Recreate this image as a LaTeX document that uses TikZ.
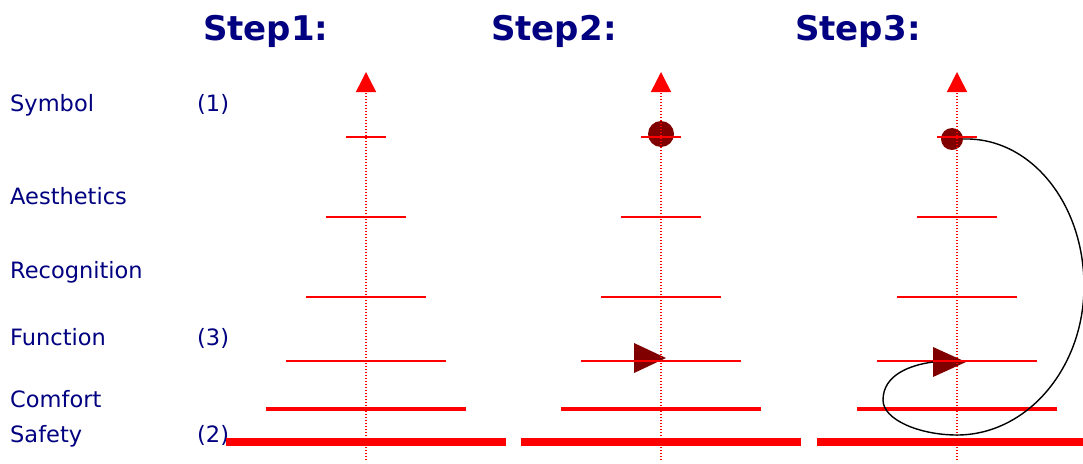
\documentclass[tikz,border=0pt]{standalone}
\usepackage{fontspec}
\setmainfont{DejaVu Sans}
\usetikzlibrary{arrows.meta,positioning,calc}
\definecolor{labelnavy}{RGB}{0, 0, 128}
\definecolor{rungred}{RGB}{255, 0, 0}
\definecolor{markred}{RGB}{128, 0, 0}

\begin{document}
\begin{tikzpicture}[x=1pt, y=-1pt,
  steptitle/.style={anchor=base west, inner sep=0pt, text=labelnavy, font=\fontsize{34}{40}\selectfont\bfseries},
  level/.style={anchor=base west, inner sep=0pt, text=labelnavy, font=\fontsize{22.5}{26}\selectfont},
  axis/.style={draw=rungred, line width=1.5pt, dash pattern=on 1.5pt off 1.5pt, -{Triangle[length=20pt, width=20pt]}},
  rung/.style={draw=rungred},
  symbolmark/.style={circle, fill=markred, inner sep=0pt},
  loop/.style={draw=black, line width=1.4pt}
]
\useasboundingbox (0,0) rectangle (1083,463);
\clip (0,0) rectangle (1083,463);

% titles
\node[steptitle] (title1) at (203,40) {Step1:};
\node[steptitle] (title2) at (491,40) {Step2:};
\node[steptitle] (title3) at (795,40) {Step3:};

% levels
\node[level] (symbol) at (10,111) {Symbol};
\node[level] (aesthetics) at (10,204) {Aesthetics};
\node[level] (recognition) at (10,278) {Recognition};
\node[level] (function) at (10,345) {Function};
\node[level] (comfort) at (10,407) {Comfort};
\node[level] (safety) at (10,442) {Safety};
\node[level] (rank1) at (197,111) {(1)};
\node[level] (rank3) at (197,345) {(3)};
\node[level] (rank2) at (197,442) {(2)};

% marks
\node[symbolmark, minimum size=26pt] (sym2) at (661,134) {};
\node[symbolmark, minimum size=22pt] (sym3) at (952,139) {};
\coordinate (fun2) at (634,358);
\coordinate (fun3) at (933,362);
\fill[markred] (fun2) -- ++(0,-15) -- ++(32,15) -- ++(-32,15) -- cycle;
\fill[markred] (fun3) -- ++(0,-15) -- ++(33,15) -- ++(-33,15) -- cycle;

% ladders
\foreach \ax/\n in {366/1, 661/2, 957/3} {
  \foreach \ry/\hw/\lw in {137/20/1.2, 217/40/1.3, 297/60/1.6, 361/80/2.5, 409/100/4, 442/140/8}
    \draw[rung, line width=\lw pt] (\ax-\hw,\ry) -- (\ax+\hw,\ry);
  \coordinate (base\n) at (\ax,460);
  \coordinate (top\n) at (\ax,72);
  \draw[axis] (base\n) -- (top\n);
}

% spiral
\coordinate (low3) at (957,435);
\draw[loop] (sym3.east) .. controls (1031,137) and (1084,204) .. (1084,286)
  .. controls (1084,368) and (1027,435) .. (low3)
  .. controls (920,435) and (883,420) .. (883,400)
  .. controls (883,375) and (910,365) .. (fun3);

\end{tikzpicture}
\end{document}
